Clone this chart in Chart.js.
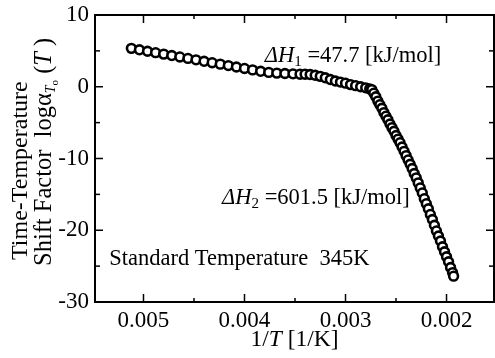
<!DOCTYPE html>
<html><head><meta charset="utf-8">
<script src="https://cdn.jsdelivr.net/npm/chart.js@4/dist/chart.umd.min.js"></script>
<style>html,body{margin:0;padding:0;background:#fff;}#wrap{width:495px;height:358px;}</style>
</head><body><div id="wrap"><canvas id="c" width="495" height="358"></canvas></div>
<script>
// ---- data ----
const invT = [
  0.00512,0.00504,0.00496,0.00488,0.00480,0.00472,0.00464,0.00456,0.00448,0.00440,
  0.00432,0.00424,0.00416,0.00408,0.00400,0.00392,0.00384,0.00376,0.00368,0.00360,0.00352,
  0.00345,0.00340,0.00335,0.00330,0.00325,0.00320,0.00315,0.00310,0.00305,0.00300,
  0.00295,0.00290,0.00285,0.00280,0.00276,
  0.00274,0.00272,0.00270,0.00268,0.00266,0.00264,0.00262,0.00260,0.00258,0.00256,
  0.00254,0.00252,0.00250,0.00248,0.00246,0.00244,0.00242,0.00240,0.00238,0.00236,
  0.00234,0.00232,0.00230,0.00228,0.00226,0.00224,0.00222,0.00220,0.00218,0.00216,
  0.00214,0.00212,0.00210,0.00208,0.00206,0.00204,0.00202,0.00200,0.00198,0.00196,
  0.00194,0.00193
];
const logShift = [
  5.35,5.15,4.95,4.75,4.55,4.35,4.15,3.95,3.75,3.55,
  3.35,3.15,2.95,2.75,2.55,2.35,2.15,2.0,1.9,1.85,1.8,
  1.75,1.75,1.7,1.6,1.45,1.25,1.0,0.8,0.65,0.5,
  0.3,0.15,0.0,-0.15,-0.3,
  -0.4,-0.9,-1.4,-2.0,-2.5,-3.0,-3.6,-4.1,-4.6,-5.2,
  -5.7,-6.2,-6.8,-7.3,-7.8,-8.4,-9.0,-9.6,-10.2,-10.8,
  -11.4,-12.1,-12.7,-13.4,-14.1,-14.8,-15.6,-16.3,-17.0,-17.8,
  -18.5,-19.3,-20.1,-20.8,-21.5,-22.3,-23.0,-23.7,-24.4,-25.2,
  -25.9,-26.4
];
const xMajorTicks = [0.005,0.004,0.003,0.002];
const xMinorTicks = [0.0045,0.0035,0.0025];
const yMajorTicks = [10,0,-10,-20,-30];
const yMinorTicks = [5,-5,-15,-25];
const xRange = [0.00153,0.00548];
const yRange = [-30,10];
const noteH1 = {x:0.003799, y:3.39, sub:'1', rest:' =47.7 [kJ/mol]'};
const noteH2 = {x:0.004222, y:-16.3, sub:'2', rest:' =601.5 [kJ/mol]'};
const noteStd = {x:0.005339, y:-24.8, text:'Standard Temperature  345K'};

const FONT = 'Liberation Serif';

function drawParts(ctx, parts, x, y) {
  let cx = x;
  for (const p of parts) {
    ctx.font = (p.italic ? 'italic ' : '') + p.size + 'px "' + FONT + '"';
    ctx.fillText(p.t, cx, y + (p.dy || 0));
    cx += ctx.measureText(p.t).width;
  }
}

const decor = {
  id: 'decor',
  afterDatasetsDraw(chart) {
    const ctx = chart.ctx, a = chart.chartArea;
    const xs = chart.scales.x, ys = chart.scales.y;
    ctx.save();
    ctx.strokeStyle = '#000'; ctx.fillStyle = '#000';
    ctx.lineWidth = 2;
    ctx.strokeRect(a.left, a.top, a.right - a.left, a.bottom - a.top);
    ctx.lineWidth = 1.5;
    const tick = (x1,y1,x2,y2)=>{ctx.beginPath();ctx.moveTo(x1,y1);ctx.lineTo(x2,y2);ctx.stroke();};
    xMajorTicks.forEach(v=>{const p=xs.getPixelForValue(v);tick(p,a.bottom,p,a.bottom-8);tick(p,a.top,p,a.top+8);});
    xMinorTicks.forEach(v=>{const p=xs.getPixelForValue(v);tick(p,a.bottom,p,a.bottom-4);tick(p,a.top,p,a.top+4);});
    yMajorTicks.forEach(v=>{const p=ys.getPixelForValue(v);tick(a.left,p,a.left+8,p);tick(a.right,p,a.right-8,p);});
    yMinorTicks.forEach(v=>{const p=ys.getPixelForValue(v);tick(a.left,p,a.left+5,p);tick(a.right,p,a.right-5,p);});

    ctx.textBaseline = 'alphabetic'; ctx.textAlign = 'left';
    for (const n of [noteH1, noteH2]) {
      drawParts(ctx, [
        {t:'\u0394H', italic:true, size:22.5},
        {t:n.sub, size:15, dy:4},
        {t:n.rest, size:22.5}
      ], xs.getPixelForValue(n.x), ys.getPixelForValue(n.y));
    }
    drawParts(ctx, [{t:noteStd.text, size:22.5}], xs.getPixelForValue(noteStd.x), ys.getPixelForValue(noteStd.y));

    // x title
    const xt = [{t:'1/', size:23.5},{t:'T', italic:true, size:23.5},{t:' [1/K]', size:23.5}];
    let w = 0;
    xt.forEach(p=>{ctx.font=(p.italic?'italic ':'')+p.size+'px "'+FONT+'"'; w+=ctx.measureText(p.t).width;});
    drawParts(ctx, xt, (a.left + a.right)/2 - w/2, 346);

    // y title (two rotated lines)
    ctx.save();
    ctx.translate(27, 260); ctx.rotate(-Math.PI/2);
    drawParts(ctx, [{t:'Time-Temperature', size:24}], 0, 0);
    ctx.restore();
    ctx.save();
    ctx.translate(51, 266); ctx.rotate(-Math.PI/2);
    drawParts(ctx, [
      {t:'Shift Factor  log', size:24.5},
      {t:'\u03B1', size:24.5},
      {t:'T', italic:true, size:14, dy:4},
      {t:'o', size:11, dy:7},
      {t:' (', size:24.5},
      {t:'T', italic:true, size:24.5},
      {t:' )', size:24.5}
    ], 0, 0);
    ctx.restore();
    ctx.restore();
  }
};

new Chart(document.getElementById('c'), {
  type: 'scatter',
  data: {
    datasets: [{
      data: invT.map((x,i)=>({x, y: logShift[i]})),
      pointStyle: 'circle',
      pointRadius: 4.4,
      pointBorderWidth: 2.6,
      pointBackgroundColor: '#fff',
      pointBorderColor: '#000',
      showLine: false
    }]
  },
  options: {
    responsive: false,
    animation: false,
    layout: { autoPadding: false, padding: { top: 15, right: 1, left: 0, bottom: 0 } },
    plugins: { legend: { display: false }, tooltip: { enabled: false } },
    scales: {
      x: {
        type: 'linear', reverse: true, min: xRange[0], max: xRange[1],
        afterBuildTicks: s => { s.ticks = xMajorTicks.map(v=>({value:v})); },
        afterFit: s => { s.height = 56; s.paddingLeft = 0; s.paddingRight = 0; },
        grid: { display: false, drawTicks: false },
        border: { display: false },
        ticks: { color: '#000', padding: 5, font: { family: FONT, size: 23 }, maxRotation: 0,
                 callback: v => String(v) }
      },
      y: {
        type: 'linear', min: yRange[0], max: yRange[1],
        afterBuildTicks: s => { s.ticks = yMajorTicks.map(v=>({value:v})); },
        afterFit: s => { s.width = 95; s.paddingTop = 0; s.paddingBottom = 0; },
        grid: { display: false, drawTicks: false },
        border: { display: false },
        ticks: { color: '#000', padding: 6, font: { family: FONT, size: 23 }, callback: v => String(v) }
      }
    }
  },
  plugins: [decor]
});
</script></body></html>
